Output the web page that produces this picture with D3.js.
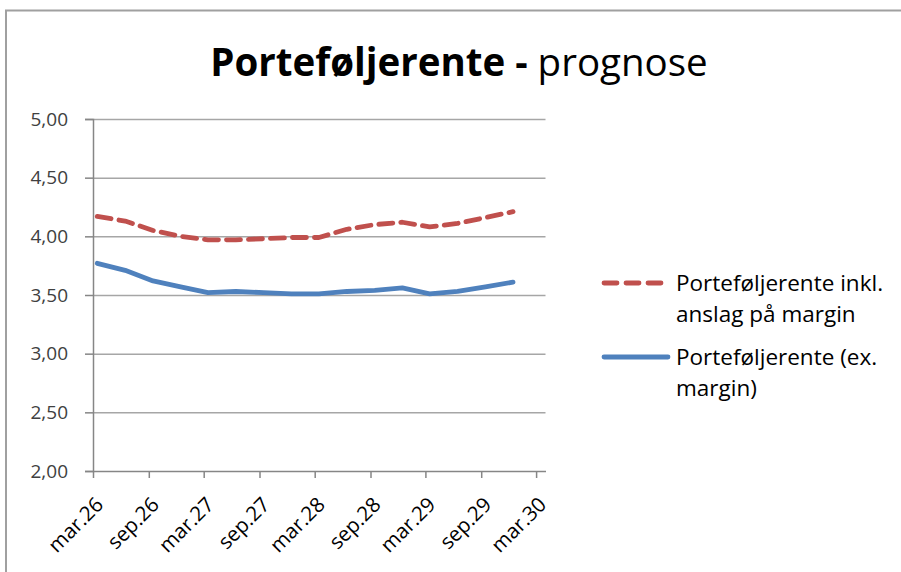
<!DOCTYPE html>
<html lang="no">
<head>
<meta charset="UTF-8">
<script src="https://d3js.org/d3.v7.min.js"></script>
<style>
  body { margin: 0; background: #fff; }
  svg { display: block; font-family: "Open Sans", "DejaVu Sans", sans-serif; }
  .gridlines .domain { display: none; }
  .gridlines line { stroke: #a6a6a6; stroke-width: 1.5; }
</style>
</head>
<body>
<svg id="chart" width="901" height="572"></svg>
<script>
// data - quarterly points (mid-month)
const dates = ["2026-03-15","2026-06-15","2026-09-15","2026-12-15",
               "2027-03-15","2027-06-15","2027-09-15","2027-12-15",
               "2028-03-15","2028-06-15","2028-09-15","2028-12-15",
               "2029-03-15","2029-06-15","2029-09-15","2029-12-15"];
const inklMargin = [4.17, 4.13, 4.05, 4.00, 3.97, 3.97, 3.98, 3.99,
                    3.99, 4.06, 4.10, 4.12, 4.08, 4.11, 4.16, 4.21];
const exMargin   = [3.77, 3.71, 3.62, 3.57, 3.52, 3.53, 3.52, 3.51,
                    3.51, 3.53, 3.54, 3.56, 3.51, 3.53, 3.57, 3.61];
const tickDates  = ["2026-03-01","2026-09-01","2027-03-01","2027-09-01","2028-03-01",
                    "2028-09-01","2029-03-01","2029-09-01","2030-03-01"];
const tickLabels = ["mar.26","sep.26","mar.27","sep.27","mar.28","sep.28","mar.29","sep.29","mar.30"];
const yTicks = [2.0, 2.5, 3.0, 3.5, 4.0, 4.5, 5.0];
const seriesNames = [["Porteføljerente inkl.", "anslag på margin"], ["Porteføljerente (ex.", "margin)"]];

const parse = d3.timeParse("%Y-%m-%d");
const svg = d3.select("#chart");

// outer frame (only top and left visible)
svg.append("path")
  .attr("d", "M6,600 L6,10.5 L905,10.5")
  .attr("fill", "none").attr("stroke", "#a0a0a0").attr("stroke-width", 2);

// title
const title = svg.append("text")
  .attr("x", 459).attr("y", 76)
  .attr("text-anchor", "middle")
  .attr("font-size", 38.5).attr("fill", "#000");
title.append("tspan").attr("font-weight", "bold").text("Porteføljerente -");
title.append("tspan").text(" prognose");

const x = d3.scaleTime()
  .domain([parse("2026-03-01"), parse("2030-04-01")])
  .range([93, 545.5]);
const y = d3.scaleLinear().domain([2, 5]).range([471, 119]);

// gridlines
svg.append("g")
  .attr("class", "gridlines")
  .attr("transform", "translate(93,0)")
  .call(d3.axisLeft(y).tickValues(yTicks.slice(1)).tickSize(-452.5).tickFormat(""));

// y axis
const yAxis = svg.append("g")
  .attr("transform", "translate(93,0)")
  .call(d3.axisLeft(y).tickValues(yTicks).tickSize(8).tickPadding(17)
        .tickFormat(d => d3.format(".2f")(d).replace(".", ",")))
  .attr("font-family", "Open Sans");
yAxis.select(".domain").attr("stroke", "#868686").attr("stroke-width", 1.5);
yAxis.selectAll(".tick line").attr("stroke", "#868686").attr("stroke-width", 1.5);
yAxis.selectAll(".tick text").attr("font-size", 19).attr("fill", "#404040");

// x axis
const xAxis = svg.append("g")
  .attr("transform", "translate(0,471)")
  .call(d3.axisBottom(x).tickValues(tickDates.map(parse)).tickSize(7).tickSizeOuter(0)
        .tickFormat((d, i) => tickLabels[i]))
  .attr("font-family", "Open Sans");
xAxis.select(".domain").attr("stroke", "#868686").attr("stroke-width", 1.5);
xAxis.selectAll(".tick line").attr("stroke", "#868686").attr("stroke-width", 1.5);
xAxis.selectAll(".tick text")
  .attr("font-size", 20.5).attr("fill", "#000")
  .attr("text-anchor", "end")
  .attr("dy", null).attr("y", 0)
  .attr("transform", "translate(11,35) rotate(-45)");

// lines
const line = d3.line()
  .x((d, i) => x(parse(dates[i])))
  .y(d => y(d));

svg.append("path")
  .datum(inklMargin)
  .attr("fill", "none")
  .attr("stroke", "#c0504d")
  .attr("stroke-width", 4.8)
  .attr("stroke-dasharray", "14,8")
  .attr("stroke-linecap", "round")
  .attr("stroke-linejoin", "round")
  .attr("d", line);

svg.append("path")
  .datum(exMargin)
  .attr("fill", "none")
  .attr("stroke", "#4f81bd")
  .attr("stroke-width", 4.8)
  .attr("stroke-linecap", "round")
  .attr("stroke-linejoin", "round")
  .attr("d", line);

// legend
const legend = svg.append("g");
const legY = [283, 357];
const legStyle = [{c: "#c0504d", dash: "13,9"}, {c: "#4f81bd", dash: null}];
legY.forEach((ly, i) => {
  legend.append("line")
    .attr("x1", 604).attr("x2", 668).attr("y1", ly).attr("y2", ly)
    .attr("stroke", legStyle[i].c).attr("stroke-width", 4.8)
    .attr("stroke-linecap", "round")
    .attr("stroke-dasharray", legStyle[i].dash);
  const t = legend.append("text")
    .attr("x", 676).attr("y", ly + 8)
    .attr("font-size", 22.5).attr("fill", "#000");
  seriesNames[i].forEach((s, j) => {
    t.append("tspan").attr("x", 676).attr("dy", j === 0 ? 0 : 31).text(s);
  });
});
</script>
</body>
</html>
